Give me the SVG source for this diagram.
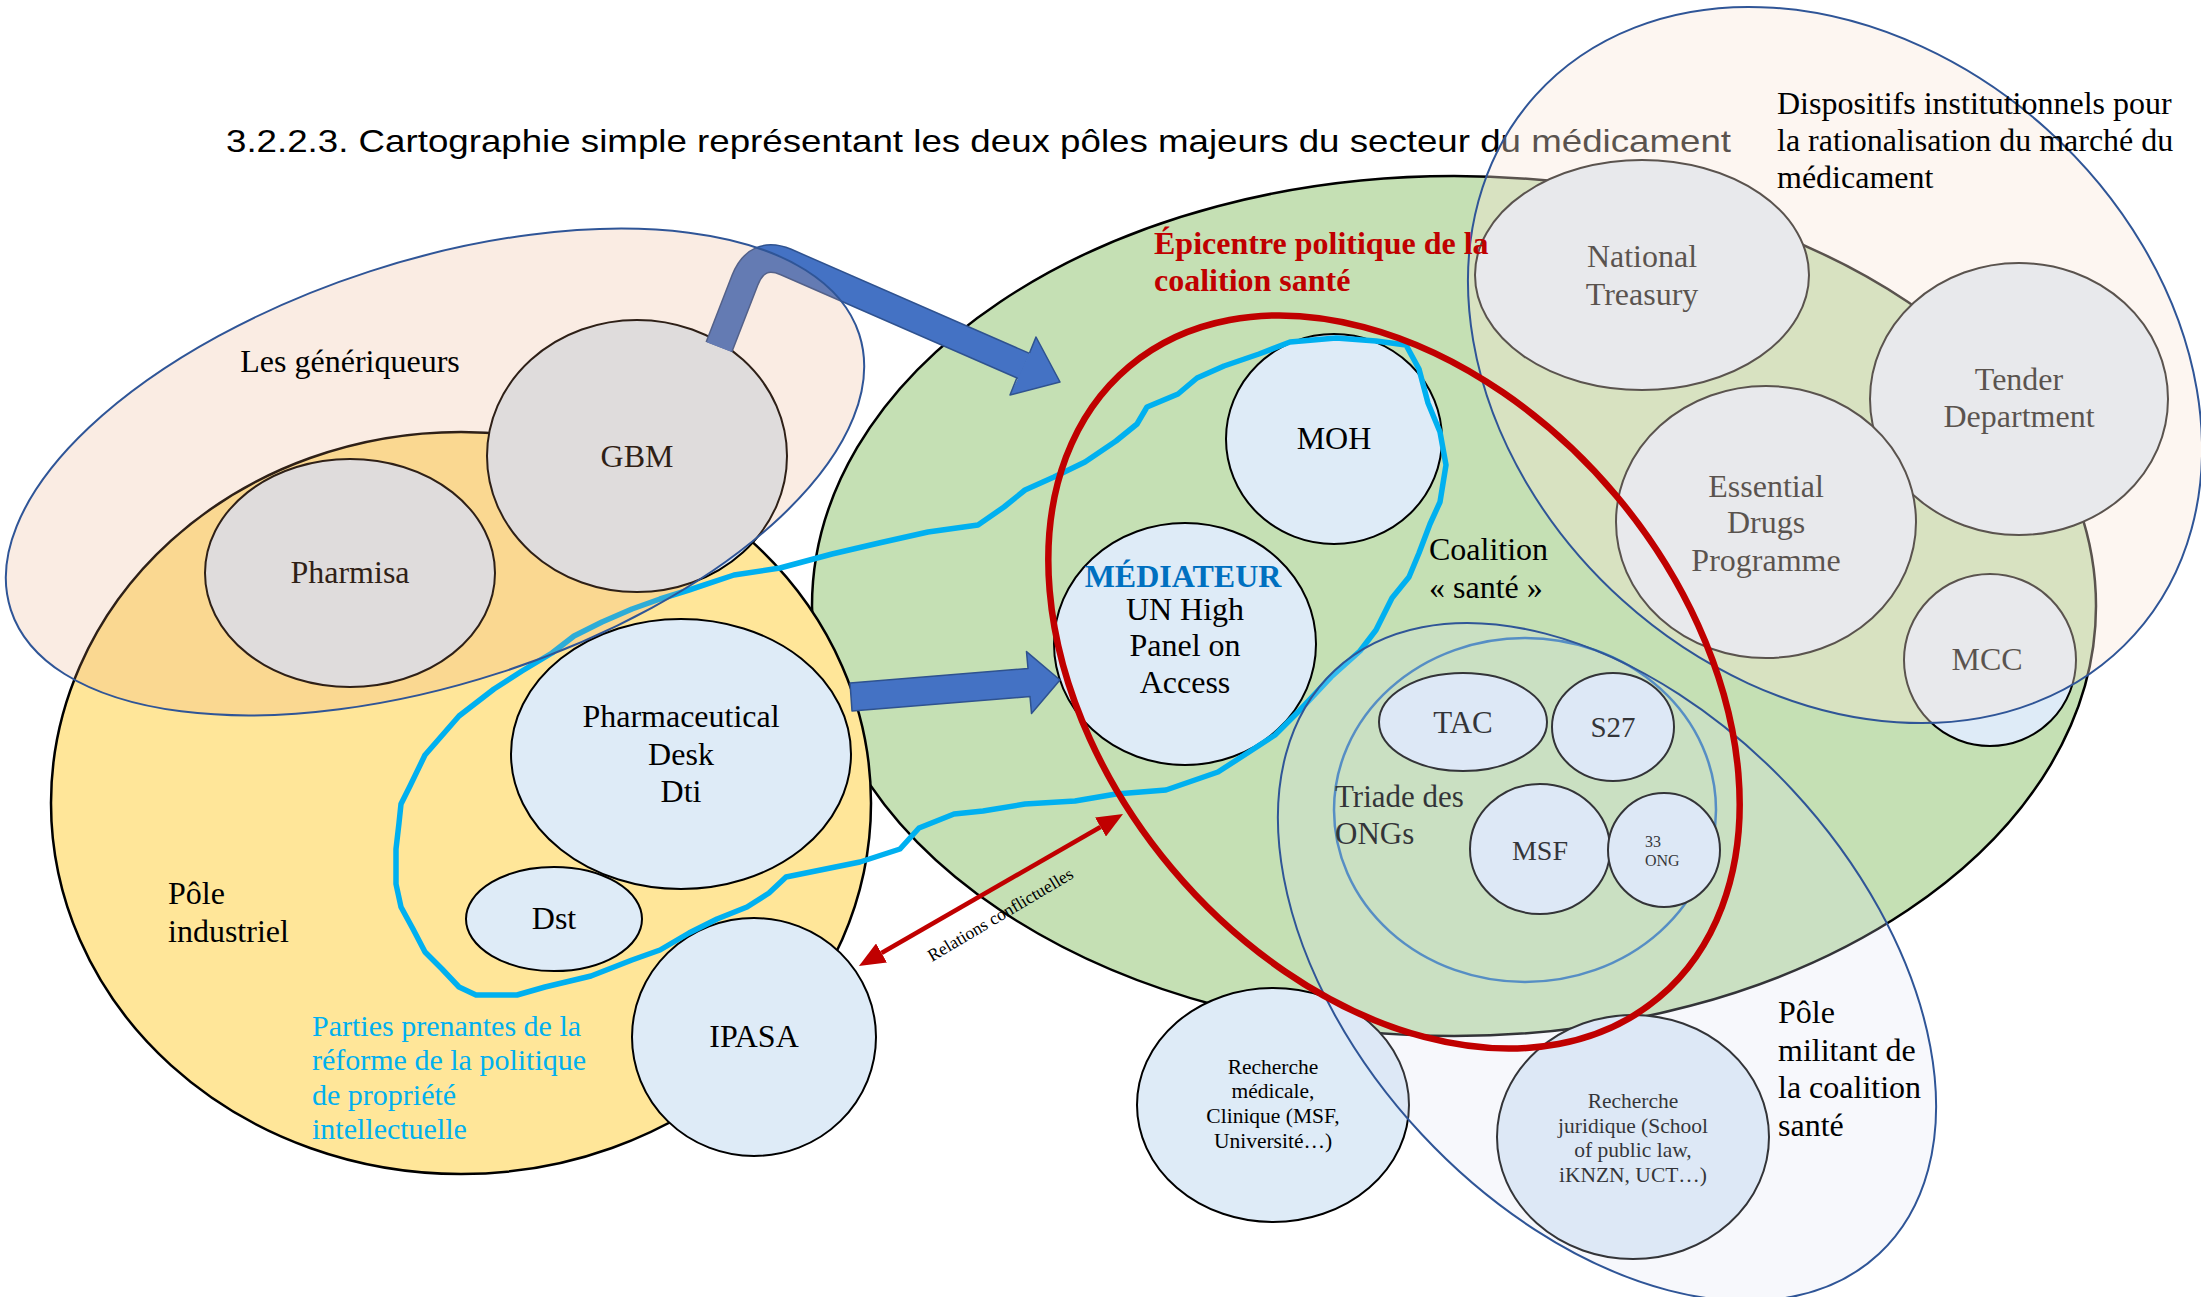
<svg xmlns="http://www.w3.org/2000/svg" width="2201" height="1297" viewBox="0 0 2201 1297">
<defs>
<style>
.serif{font-family:'Liberation Serif','Times New Roman',serif;}
.lbl{font-family:'Liberation Serif','Times New Roman',serif;font-size:32px;fill:#000;text-anchor:middle;}
.txt{font-family:'Liberation Serif','Times New Roman',serif;font-size:32px;fill:#000;}
.node{fill:#DEEBF7;stroke:#000;stroke-width:2;}
.ovl{stroke:#2F5597;stroke-width:2;}
.blk-out{fill:none;stroke:#2F528F;stroke-width:29;stroke-linejoin:round;}
.blk-in{fill:none;stroke:#4472C4;stroke-width:26;stroke-linejoin:round;}
.small{font-size:21.5px;}
.cyan{fill:#00B0F0;font-size:30px;}
</style>
<marker id="redhead" viewBox="0 0 26 22" markerWidth="26" markerHeight="22" refX="0" refY="11" orient="auto-start-reverse" markerUnits="userSpaceOnUse">
<path d="M0,0 L26,11 L0,22 Z" fill="#C00000"/>
</marker>
</defs>
<rect width="2201" height="1297" fill="#FFFFFF"/>

<text id="title" x="226" y="152" font-family="'Liberation Sans',Arial,sans-serif" font-size="32" fill="#000" textLength="1505" lengthAdjust="spacingAndGlyphs">3.2.2.3. Cartographie simple représentant les deux pôles majeurs du secteur du médicament</text>

<g id="coalition-sante">
<ellipse cx="1454" cy="606" rx="642" ry="430" fill="#C5E0B4" stroke="#000" stroke-width="2.5"/>
<text class="txt" x="1429" y="560">Coalition</text>
<text class="txt" x="1429" y="598">« santé »</text>
</g>

<g id="pole-industriel">
<ellipse cx="461" cy="803" rx="410" ry="371" fill="#FFE699" stroke="#000" stroke-width="2.5"/>
<text class="txt" x="168" y="904">Pôle</text>
<text class="txt" x="168" y="942">industriel</text>
</g>

<g id="triade-ongs">
<ellipse cx="1525" cy="810" rx="191" ry="172" fill="none" stroke="#2E75B6" stroke-width="2.5"/>
<text class="txt" x="1335" y="807" style="font-size:31px">Triade des</text>
<text class="txt" x="1335" y="844" style="font-size:31px">ONGs</text>
</g>

<g id="pharmisa"><ellipse class="node" cx="350" cy="573" rx="145" ry="114"/><text class="lbl" x="350" y="583">Pharmisa</text></g>
<g id="gbm"><ellipse class="node" cx="637" cy="456" rx="150" ry="136"/><text class="lbl" x="637" y="467">GBM</text></g>
<g id="pharmaceutical-desk"><ellipse class="node" cx="681" cy="754" rx="170" ry="135"/>
<text class="lbl" x="681" y="727">Pharmaceutical</text><text class="lbl" x="681" y="765">Desk</text><text class="lbl" x="681" y="802">Dti</text></g>
<g id="dst"><ellipse class="node" cx="554" cy="919" rx="88" ry="52"/><text class="lbl" x="554" y="929">Dst</text></g>
<g id="ipasa"><ellipse class="node" cx="754" cy="1037" rx="122" ry="119"/><text class="lbl" x="754" y="1047">IPASA</text></g>
<g id="moh"><ellipse class="node" cx="1334" cy="439" rx="108" ry="105"/><text class="lbl" x="1334" y="449">MOH</text></g>
<g id="mediateur"><ellipse class="node" cx="1185" cy="644" rx="131" ry="121"/>
<text class="lbl" x="1183" y="587" style="fill:#0070C0;font-weight:bold">MÉDIATEUR</text>
<text class="lbl" x="1185" y="620">UN High</text><text class="lbl" x="1185" y="656">Panel on</text><text class="lbl" x="1185" y="693">Access</text></g>
<g id="tac"><ellipse class="node" cx="1463" cy="722" rx="84" ry="49"/><text class="lbl" x="1463" y="733" style="font-size:31px">TAC</text></g>
<g id="s27"><ellipse class="node" cx="1613" cy="727" rx="61" ry="54"/><text class="lbl" x="1613" y="737" style="font-size:29px">S27</text></g>
<g id="msf"><ellipse class="node" cx="1540" cy="849" rx="70" ry="65"/><text class="lbl" x="1540" y="860" style="font-size:28px">MSF</text></g>
<g id="ong33"><ellipse class="node" cx="1664" cy="850" rx="56" ry="57"/>
<text class="txt" x="1645" y="847" style="font-size:16px">33</text><text class="txt" x="1645" y="866" style="font-size:16px">ONG</text></g>
<g id="national-treasury"><ellipse class="node" cx="1642" cy="275" rx="167" ry="115"/>
<text class="lbl" x="1642" y="267">National</text><text class="lbl" x="1642" y="305">Treasury</text></g>
<g id="tender-department"><ellipse class="node" cx="2019" cy="399" rx="149" ry="136"/>
<text class="lbl" x="2019" y="390">Tender</text><text class="lbl" x="2019" y="427">Department</text></g>
<g id="essential-drugs"><ellipse class="node" cx="1766" cy="522" rx="150" ry="136"/>
<text class="lbl" x="1766" y="497">Essential</text><text class="lbl" x="1766" y="533">Drugs</text><text class="lbl" x="1766" y="571">Programme</text></g>
<g id="mcc"><ellipse class="node" cx="1990" cy="660" rx="86" ry="86"/><text class="lbl" x="1987" y="670">MCC</text></g>
<g id="recherche-medicale"><ellipse class="node" cx="1273" cy="1105" rx="136" ry="117"/>
<text class="lbl small" x="1273" y="1074">Recherche</text><text class="lbl small" x="1273" y="1098">médicale,</text>
<text class="lbl small" x="1273" y="1123">Clinique (MSF,</text><text class="lbl small" x="1273" y="1148">Université…)</text></g>
<g id="recherche-juridique"><ellipse class="node" cx="1633" cy="1137" rx="136" ry="122"/>
<text class="lbl small" x="1633" y="1108">Recherche</text><text class="lbl small" x="1633" y="1133">juridique (School</text>
<text class="lbl small" x="1633" y="1157">of public law,</text><text class="lbl small" x="1633" y="1182">iKNZN, UCT…)</text></g>

<g id="connectors">
<g id="arrow-gbm-mediateur">
<path class="blk-out" d="M719,347 L745,280 Q757,250 786,262 L1024,366"/>
<path class="blk-in" d="M719,347 L745,280 Q757,250 786,262 L1024,366"/>
<path d="M1018,378 L1010,395 L1060,382 L1036,337 L1029,354 Z" fill="#4472C4"/>
<path d="M1017,377.6 L1010,395 L1060,382 L1036,337 L1029.5,353" fill="none" stroke="#2F528F" stroke-width="1.5" stroke-linejoin="round"/>
</g>
<g id="arrow-desk-mediateur">
<path d="M850,683 L1028,668.5 L1026.5,651.6 L1060,680 L1031.5,713.4 L1030,696.5 L852,711 Z" fill="#4472C4" stroke="#2F528F" stroke-width="1.5" stroke-linejoin="round"/>
</g>
<g id="relations-conflictuelles">
<line x1="881.5" y1="953" x2="1100.5" y2="827" stroke="#C00000" stroke-width="4.5" marker-start="url(#redhead)" marker-end="url(#redhead)"/>
<text class="serif" transform="translate(932,962) rotate(-30.7)" font-size="17.5" fill="#000" textLength="166" lengthAdjust="spacingAndGlyphs">Relations conflictuelles</text>
</g>
</g>

<g id="parties-prenantes">
<path d="M1290,342 L1336,338 L1376,341 L1406,345 L1419,369 L1428,403 L1440,432 L1446,465 L1440,502 L1430,524 L1419,553 L1409,577 L1392,598 L1376,630 L1360,651 L1331,677 L1300,710 L1275,735 L1249,752 L1218,772 L1166,790 L1116,794 L1075,801 L1025,804 L983,811 L954,814 L919,828 L900,849 L860,862 L786,877 L769,893 L747,907 L717,919 L689,933 L660,950 L632,960 L591,976 L545,987 L517,995 L476,995 L459,987 L442,969 L425,952 L413,929 L401,907 L396,884 L396,849 L399,823 L401,804 L410,786 L425,755 L459,716 L494,689 L522,671 L552,653 L574,636 L602,622 L632,609 L660,599 L689,590 L734,575 L780,568 L832,554 L879,543 L928,532 L978,525 L1004,507 L1025,490 L1054,477 L1085,462 L1116,441 L1137,424 L1147,407 L1178,394 L1197,378 L1224,366 L1259,354 Z" fill="none" stroke="#00B0F0" stroke-width="5.5" stroke-linejoin="round"/>
<text class="txt cyan" x="312" y="1036">Parties prenantes de la</text>
<text class="txt cyan" x="312" y="1070">réforme de la politique</text>
<text class="txt cyan" x="312" y="1105">de propriété</text>
<text class="txt cyan" x="312" y="1139">intellectuelle</text>
</g>

<g id="generiqueurs">
<ellipse class="ovl" cx="435" cy="472" rx="446" ry="211" transform="rotate(-18 435 472)" fill="#E6A073" fill-opacity="0.2"/>
<text class="lbl" x="350" y="372">Les génériqueurs</text>
</g>

<g id="dispositifs-institutionnels">
<ellipse class="ovl" cx="1835" cy="365" rx="403" ry="317" transform="rotate(42 1835 365)" fill="#F9E6D8" fill-opacity="0.36"/>
<text class="txt" x="1777" y="114">Dispositifs institutionnels pour</text>
<text class="txt" x="1777" y="151">la rationalisation du marché du</text>
<text class="txt" x="1777" y="188">médicament</text>
</g>

<g id="pole-militant">
<ellipse class="ovl" cx="1607" cy="962" rx="399" ry="253" transform="rotate(47 1607 962)" fill="#DCE1F2" fill-opacity="0.23"/>
<text class="txt" x="1778" y="1023">Pôle</text>
<text class="txt" x="1778" y="1061">militant de</text>
<text class="txt" x="1778" y="1098">la coalition</text>
<text class="txt" x="1778" y="1136">santé</text>
</g>

<g id="epicentre-politique">
<ellipse cx="1394" cy="682" rx="412" ry="290" transform="rotate(50 1394 682)" fill="none" stroke="#C00000" stroke-width="6.5"/>
<text class="txt" x="1154" y="254" style="fill:#C00000;font-weight:bold">Épicentre politique de la</text>
<text class="txt" x="1154" y="291" style="fill:#C00000;font-weight:bold">coalition santé</text>
</g>
</svg>
